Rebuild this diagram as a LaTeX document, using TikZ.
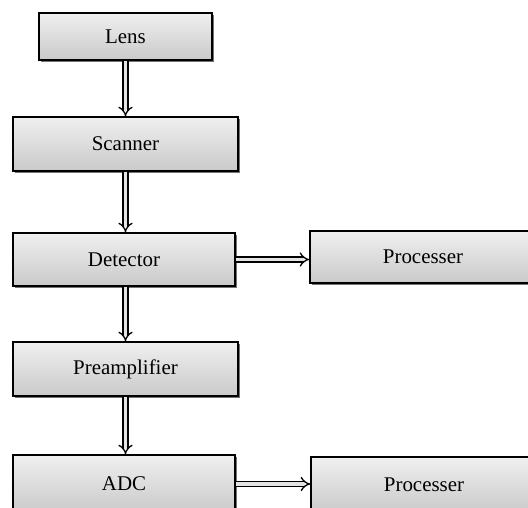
\documentclass[tikz,border=0pt]{standalone}
\usepackage{fontspec}
\setmainfont{Liberation Serif}
\usetikzlibrary{arrows.meta,shadows}
\tikzset{
  blockbox/.style={draw=black, line width=1.4bp, inner sep=0pt,
    top color=gray!12, bottom color=gray!42,
    drop shadow={shadow xshift=2.2bp, shadow yshift=-2.2bp, fill=black!55, opacity=1},
    font=\fontsize{21}{24}\selectfont},
  conn/.style={draw=black, double=gray!22, double distance=3.6bp, line width=1.3bp, -{Implies[length=5bp,width=12bp]}}
}
\begin{document}
\begin{tikzpicture}[x=1bp,y=-1bp]
\useasboundingbox (0,0) rectangle (528,508);
\clip (0,0) rectangle (528,508);
\node[blockbox, minimum width=173bp, minimum height=47bp] (lens) at (125.5,36.5) {Lens};
\node[blockbox, minimum width=225bp, minimum height=54bp] (scan) at (125.5,144) {Scanner};
\node[blockbox, minimum width=222bp, minimum height=53bp] (det) at (124,259.5) {Detector};
\node[blockbox, minimum width=225bp, minimum height=54bp] (pre) at (125.5,369) {Preamplifier};
\node[blockbox, minimum width=222bp, minimum height=58bp] (adc) at (124,484) {ADC};
\node[blockbox, minimum width=226bp, minimum height=52bp] (proc1) at (423,257) {Processer};
\node[blockbox, minimum width=226bp, minimum height=56bp] (proc2) at (424,485) {Processer};
\draw[conn] (lens.south -| scan.north) -- (scan.north);
\draw[conn] (scan.south) -- (scan.south |- det.north);
\draw[conn] (scan.south |- det.south) -- (pre.north);
\draw[conn] (pre.south) -- (pre.south |- adc.north);
\draw[conn] (det.east) -- (det.east -| proc1.west);
\draw[conn] (adc.east) -- (adc.east -| proc2.west);
\end{tikzpicture}
\end{document}
